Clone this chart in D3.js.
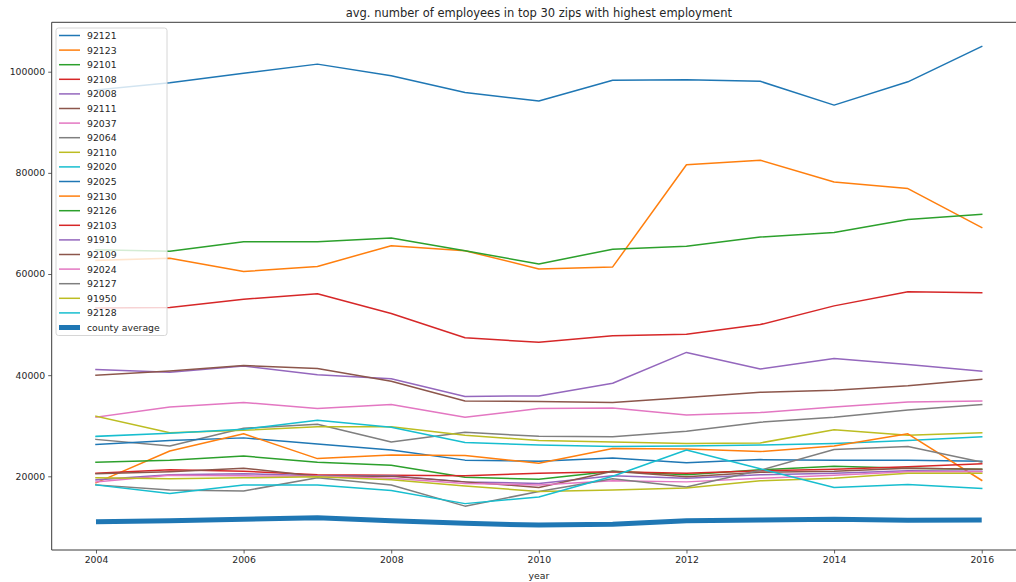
<!DOCTYPE html>
<html>
<head>
<meta charset="utf-8">
<script src="https://cdn.jsdelivr.net/npm/d3@7"></script>
<style>
  html, body { margin: 0; padding: 0; background: #fff; }
  svg { display: block; }
  text { font-family: "DejaVu Sans", sans-serif; fill: #262626; }
</style>
</head>
<body>
<svg id="chart" width="1016" height="582"></svg>
<script>
// Years on the x axis
const years = [2004, 2005, 2006, 2007, 2008, 2009, 2010, 2011, 2012, 2013, 2014, 2015, 2016];

// Zip codes, in legend order
const zipCodes = ["92121", "92123", "92101", "92108", "92008", "92111", "92037", "92064", "92110", "92020",
                  "92025", "92130", "92126", "92103", "91910", "92109", "92024", "92127", "91950", "92128"];

// Average number of employees per zip, per year
const s92121 = [96400, 97800, 99700, 101500, 99200, 95900, 94200, 98300, 98400, 98100, 93400, 98000, 105000];
const s92123 = [62700, 63100, 60500, 61500, 65600, 64600, 61000, 61400, 81600, 82500, 78200, 76900, 69200];
const s92101 = [64800, 64500, 66400, 66400, 67100, 64600, 62000, 64900, 65500, 67300, 68200, 70800, 71800];
const s92108 = [53300, 53400, 55000, 56100, 52200, 47400, 46500, 47800, 48100, 50000, 53700, 56500, 56300];
const s92008 = [41100, 40600, 41800, 40100, 39300, 35800, 35900, 38400, 44500, 41200, 43300, 42100, 40800];
const s92111 = [40000, 40800, 41900, 41300, 38800, 34900, 34800, 34600, 35600, 36600, 37000, 37900, 39200];
const s92037 = [31700, 33700, 34600, 33400, 34200, 31700, 33400, 33500, 32100, 32600, 33700, 34700, 34900];
const s92064 = [27300, 26000, 29500, 30300, 26800, 28700, 27900, 27800, 28900, 30700, 31700, 33100, 34200];
const s92110 = [31900, 28600, 29100, 29800, 29800, 28100, 27100, 26800, 26500, 26600, 29200, 28100, 28600];
const s92020 = [27900, 28500, 29300, 31100, 29700, 26700, 26200, 25900, 26000, 26200, 26500, 27100, 27800];
const s92025 = [26300, 27100, 27600, 26400, 25200, 23200, 23000, 23600, 22700, 23300, 23200, 23200, 23000];
const s92130 = [18700, 25000, 28400, 23500, 24200, 24100, 22600, 25500, 25400, 24900, 26000, 28400, 19200];
const s92126 = [22800, 23200, 24000, 22800, 22200, 19800, 19400, 21000, 20300, 21300, 22000, 21600, 21400];
const s92103 = [20600, 21300, 21000, 20300, 20200, 20100, 20600, 20900, 20600, 21100, 21400, 21900, 22500];
const s91910 = [19300, 20300, 20500, 20100, 20100, 18900, 18600, 20100, 19600, 20300, 20600, 21100, 21000];
const s92109 = [20500, 20900, 21600, 20000, 20000, 18900, 17800, 21000, 19900, 20800, 21000, 21600, 21400];
const s92024 = [18900, 20200, 20100, 20000, 19600, 18600, 18300, 19100, 18900, 19600, 20200, 20900, 20900];
const s92127 = [18300, 17300, 17100, 19700, 18300, 14100, 17000, 19500, 17900, 21200, 25300, 25900, 22800];
const s91950 = [19700, 19500, 19700, 19900, 19300, 18100, 17000, 17300, 17700, 19100, 19600, 20600, 20600];
const s92128 = [18300, 16600, 18300, 18300, 17200, 14600, 15900, 20000, 25200, 21500, 17800, 18400, 17600];

// County-wide average
const countyAverage = [11000, 11200, 11500, 11800, 11200, 10700, 10350, 10500, 11200, 11350, 11500, 11300, 11350];

// Axis ticks
const xTicks = [2004, 2006, 2008, 2010, 2012, 2014, 2016];
const yTicks = [20000, 40000, 60000, 80000, 100000];

const zipValues = [s92121, s92123, s92101, s92108, s92008, s92111, s92037, s92064, s92110, s92020,
                   s92025, s92130, s92126, s92103, s91910, s92109, s92024, s92127, s91950, s92128];

const series = zipCodes.map((name, i) => ({ name, values: zipValues[i], width: 1.5 }));
series.push({ name: "county average", values: countyAverage, width: 5 });

const palette = d3.schemeCategory10;
const color = (i) => palette[i % 10];

const svg = d3.select("#chart");
const plot = { left: 51.7, right: 1026, top: 22.3, bottom: 550 };

const x = d3.scaleLinear().domain([2003.4, 2016.6]).range([plot.left, plot.right]);
const y = d3.scaleLinear().domain([5430, 109770]).range([plot.bottom, plot.top]);

// Lines
const line = d3.line().x((d, i) => x(years[i])).y(d => y(d));
const lines = svg.append("g");
series.forEach((s, i) => {
  lines.append("path")
    .attr("d", line(s.values))
    .attr("fill", "none")
    .attr("stroke", color(i === series.length - 1 ? 0 : i))
    .attr("stroke-width", s.width)
    .attr("stroke-linejoin", "round")
    .attr("stroke-linecap", s.width > 2 ? "butt" : "square");
});

// Axes
const axisColor = "#3a3a3a";
const xAxis = svg.append("g")
  .attr("transform", `translate(0,${plot.bottom})`)
  .call(d3.axisBottom(x).tickValues(xTicks).tickFormat(d3.format("d")).tickSize(3.5).tickPadding(3));
const yAxis = svg.append("g")
  .attr("transform", `translate(${plot.left},0)`)
  .call(d3.axisLeft(y).tickValues(yTicks).tickFormat(d3.format("d")).tickSize(3.5).tickPadding(3));
[xAxis, yAxis].forEach(g => {
  g.select(".domain").remove();
  g.selectAll(".tick line").attr("stroke", axisColor).attr("stroke-width", 0.8);
  g.selectAll(".tick text").attr("font-size", "9.3px").attr("fill", "#262626")
    .attr("font-family", "DejaVu Sans, sans-serif");
});

// Spines
const spines = svg.append("g").attr("stroke", axisColor).attr("stroke-width", 1);
spines.append("line").attr("x1", plot.left).attr("x2", plot.right).attr("y1", plot.bottom).attr("y2", plot.bottom);
spines.append("line").attr("x1", plot.left).attr("x2", plot.right).attr("y1", plot.top).attr("y2", plot.top);
spines.append("line").attr("x1", plot.left).attr("x2", plot.left).attr("y1", plot.top).attr("y2", plot.bottom);

// Title and axis label
svg.append("text")
  .attr("x", (plot.left + plot.right) / 2)
  .attr("y", 17)
  .attr("text-anchor", "middle")
  .attr("font-size", "11.5px")
  .text("avg. number of employees in top 30 zips with highest employment");

svg.append("text")
  .attr("x", (plot.left + plot.right) / 2)
  .attr("y", 579)
  .attr("text-anchor", "middle")
  .attr("font-size", "9.3px")
  .text("year");

// Legend
const legend = svg.append("g");
const rowH = 14.6, top0 = 35.5;
legend.append("rect")
  .attr("x", 56).attr("y", 28)
  .attr("width", 111).attr("height", 307.5)
  .attr("rx", 2.5)
  .attr("fill", "#fff").attr("fill-opacity", 0.8)
  .attr("stroke", "#d6d6d6").attr("stroke-width", 1);
series.forEach((s, i) => {
  const yy = top0 + i * rowH;
  legend.append("line")
    .attr("x1", 59).attr("x2", 80).attr("y1", yy).attr("y2", yy)
    .attr("stroke", color(i === series.length - 1 ? 0 : i))
    .attr("stroke-width", s.width);
  legend.append("text")
    .attr("x", 87).attr("y", yy + 3.4)
    .attr("font-size", "9.3px")
    .text(s.name);
});
</script>
</body>
</html>
